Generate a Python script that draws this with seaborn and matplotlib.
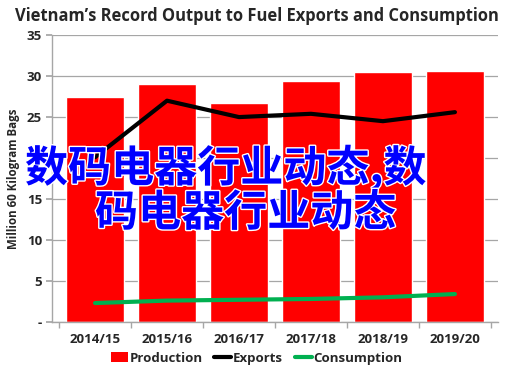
import matplotlib
matplotlib.use("Agg")

import matplotlib.pyplot as plt
import matplotlib.patheffects as pe
from matplotlib.lines import Line2D
from matplotlib.patches import Patch
from matplotlib.ticker import FixedLocator, FuncFormatter
import seaborn as sns
import pandas as pd

# dados
seasons = ["2014/15", "2015/16", "2016/17", "2017/18", "2018/19", "2019/20"]
production = [27.4, 29.0, 26.7, 29.4, 30.5, 30.6]
exports = [20.1, 27.0, 25.0, 25.4, 24.5, 25.6]
consumption = [2.3, 2.6, 2.7, 2.8, 3.0, 3.4]

title = "Vietnam\u2019s Record Output to Fuel Exports and Consumption"
overlay_1 = "数码电器行业动态,数"
overlay_2 = "码电器行业动态"

df = pd.DataFrame({
    "season": seasons,
    "production": production,
    "exports": exports,
    "consumption": consumption,
})

sns.set_theme(style="white")
plt.rcParams["font.family"] = ["Open Sans", "DejaVu Sans"]

fig = plt.figure(figsize=(5.13, 3.70), dpi=100)
ax = fig.add_axes([0.101, 0.130, 0.870, 0.775])

sns.barplot(data=df, x="season", y="production", color="#ff0000",
            saturation=1, width=0.8, ax=ax, zorder=2)
sns.lineplot(data=df, x="season", y="exports", color="black",
             linewidth=3, sort=False, ax=ax, zorder=3)
sns.lineplot(data=df, x="season", y="consumption", color="#00b050",
             linewidth=3, sort=False, ax=ax, zorder=3)

ax.set_ylim(0, 35)
ax.set_xlim(-0.6, 5.6)
ax.yaxis.set_major_locator(FixedLocator(range(0, 36, 5)))
ax.yaxis.set_major_formatter(FuncFormatter(lambda v, _: "-" if v == 0 else f"{int(v)}"))
ax.grid(axis="y", color="#a6a6a6", linewidth=0.9, zorder=0)
ax.set_axisbelow(True)

for side in ("top", "right"):
    ax.spines[side].set_visible(False)
for side in ("left", "bottom"):
    ax.spines[side].set_color("#a6a6a6")
    ax.spines[side].set_linewidth(1.0)

ax.tick_params(axis="y", which="major", left=True, length=4, color="#a6a6a6",
               labelsize=9.5, pad=3)
ax.tick_params(axis="x", which="major", length=0, labelsize=9.5, pad=8)
ax.xaxis.set_minor_locator(FixedLocator([i - 0.5 for i in range(len(seasons) + 1)]))
ax.tick_params(axis="x", which="minor", bottom=True, length=4, color="#a6a6a6")
for lab in ax.get_xticklabels() + ax.get_yticklabels():
    lab.set_fontweight("bold")

ax.set_xlabel("")
ax.set_ylabel("Million 60 Kilogram Bags", fontsize=8.3, fontweight="bold", labelpad=5)

fig.text(0.5, 0.958, title, ha="center", va="center", fontsize=11.9, fontweight="bold")

handles = [
    Patch(facecolor="#ff0000", edgecolor="none"),
    Line2D([], [], color="black", linewidth=3),
    Line2D([], [], color="#00b050", linewidth=3),
]
fig.legend(handles, ["Production", "Exports", "Consumption"], loc="center",
           bbox_to_anchor=(0.50, 0.032), ncol=3, frameon=False,
           prop={"weight": "bold", "size": 9.5}, handlelength=1.3,
           handletextpad=0.1, columnspacing=0.9)

cjk = ["Noto Sans CJK SC", "DejaVu Sans"]
stroke = [pe.withStroke(linewidth=2, foreground="white")]
fig.text(25 / 513, 1 - 168 / 370, overlay_1, ha="left", va="center", fontsize=31,
         color="#0000ff", fontweight="bold", family=cjk, path_effects=stroke, zorder=10)
fig.text(95 / 513, 1 - 213 / 370, overlay_2, ha="left", va="center", fontsize=31,
         color="#0000ff", fontweight="bold", family=cjk, path_effects=stroke, zorder=10)

fig.savefig("out.png", dpi=100)
